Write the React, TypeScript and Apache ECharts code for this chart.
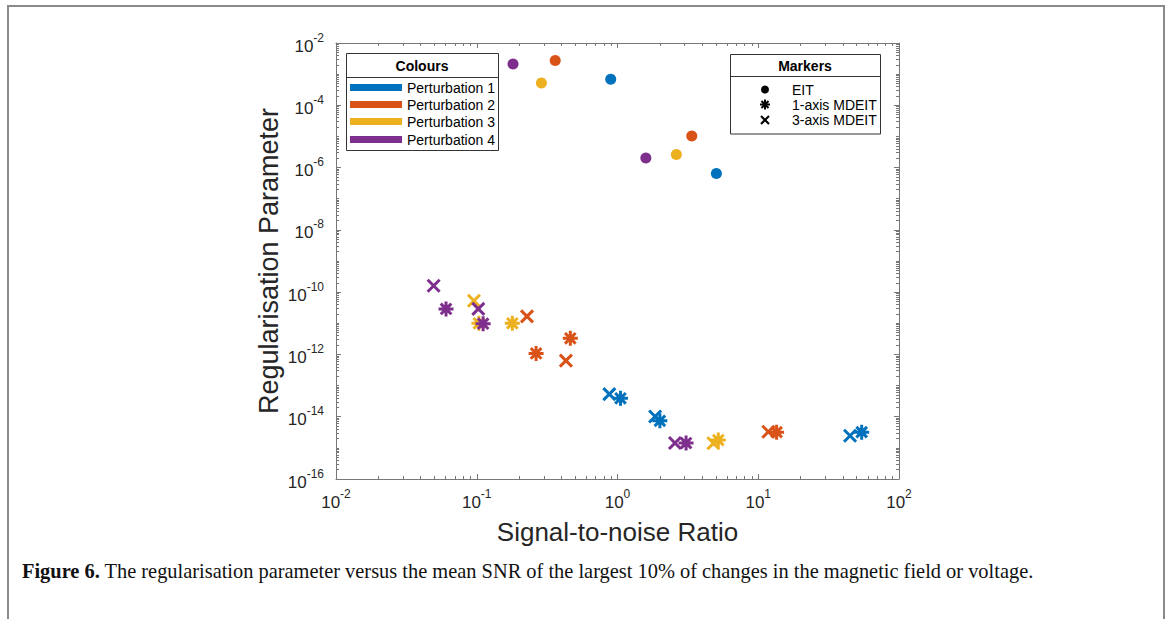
import React, { useEffect, useRef } from "react";
import * as echarts from "echarts";

// ---- data (SNR, regularisation parameter) ----
const perturbationNames = ["Perturbation 1", "Perturbation 2", "Perturbation 3", "Perturbation 4"];
const perturbationColors = ["#0072BD", "#D95319", "#EDB120", "#7E2F8E"];
const markerNames = ["EIT", "1-axis MDEIT", "3-axis MDEIT"];

const p1EIT = [[0.895, 6.8e-4], [5.04, 6.5e-7]];
const p1Axis1 = [[1.05, 3.9e-14], [2.0, 7.4e-15], [54.3, 3.2e-15]];
const p1Axis3 = [[0.875, 5.3e-14], [1.85, 1.02e-14], [44.9, 2.45e-15]];

const p2EIT = [[0.361, 2.76e-3], [3.37, 1.03e-5]];
const p2Axis1 = [[0.264, 1.08e-12], [0.462, 3.3e-12], [13.5, 3.2e-15]];
const p2Axis3 = [[0.2275, 1.66e-11], [0.43, 6.3e-13], [11.8, 3.3e-15]];

const p3EIT = [[0.288, 5.2e-4], [2.62, 2.65e-6]];
const p3Axis1 = [[0.1035, 1.0e-11], [0.179, 1.0e-11], [5.2, 1.78e-15]];
const p3Axis3 = [[0.0955, 5.3e-11], [4.8, 1.4e-15]];

const p4EIT = [[0.181, 2.1e-3], [1.59, 2.03e-6]];
const p4Axis1 = [[0.0605, 2.9e-11], [0.111, 9.7e-12], [3.07, 1.43e-15]];
const p4Axis3 = [[0.0494, 1.6e-10], [0.1026, 2.9e-11], [2.56, 1.43e-15]];

const xMajorExps = [-2, -1, 0, 1, 2];
const yLabelExps = [-16, -14, -12, -10, -8, -6, -4, -2];

const groups = [
  [p1EIT, p1Axis1, p1Axis3],
  [p2EIT, p2Axis1, p2Axis3],
  [p3EIT, p3Axis1, p3Axis3],
  [p4EIT, p4Axis1, p4Axis3],
];

const ASTER = "path://M0,-10L0,10M-10,0L10,0M-7.07,-7.07L7.07,7.07M-7.07,7.07L7.07,-7.07";
const CROSS = "path://M-10,-10L10,10M-10,10L10,-10";

const FONT = "'Liberation Sans', Arial, Helvetica, sans-serif";
const SERIF = "'Liberation Serif', 'Times New Roman', serif";
const TXT = "#262626";
const AX = "#777777";

function minorTicks(lo: number, hi: number) {
  const out: number[] = [];
  for (let e = lo; e < hi; e++) {
    for (let m = 2; m <= 9; m++) out.push(e + Math.log10(m));
  }
  return out;
}

const powLabel = (v: number) => `{b|10}{s|${Math.round(v)}}`;
const rich = {
  b: { fontSize: 17, fontFamily: FONT, color: TXT, lineHeight: 23, verticalAlign: "bottom" },
  s: { fontSize: 12, fontFamily: FONT, color: TXT, lineHeight: 23, verticalAlign: "top", padding: [0, 0, 7, 0] },
};

export default function App() {
  const ref = useRef<HTMLDivElement>(null);
  useEffect(() => {
    document.body.style.margin = "0";
    const chart = echarts.init(ref.current!, null, { renderer: "svg" });

    const xMinor = minorTicks(-2, 2);
    const yMinorAll = minorTicks(-16, -2).concat([-15, -13, -11, -9, -7, -5, -3]);

    const line = { show: true, onZero: false, lineStyle: { color: AX, width: 1 } };
    const noLine = { show: false, onZero: false };
    const baseX = { type: "value", min: -2, max: 2, gridIndex: 0, splitLine: { show: false } };
    const baseY = { type: "value", min: -16, max: -2, gridIndex: 0, splitLine: { show: false } };

    const xAxis: any[] = [
      {
        ...baseX,
        position: "bottom",
        axisLine: line,
        axisTick: { show: true, inside: true, length: 5, customValues: xMajorExps, lineStyle: { color: AX } },
        axisLabel: { show: true, customValues: xMajorExps, formatter: powLabel, rich, margin: 9 },
        name: "Signal-to-noise Ratio",
        nameLocation: "middle",
        nameGap: 40,
        nameTextStyle: { fontSize: 26, fontFamily: FONT, color: TXT },
      },
      {
        ...baseX,
        position: "bottom",
        axisLine: noLine,
        axisTick: { show: true, inside: true, length: 3, customValues: xMinor, lineStyle: { color: AX } },
        axisLabel: { show: false },
      },
      {
        ...baseX,
        position: "top",
        axisLine: line,
        axisTick: { show: true, inside: true, length: 5, customValues: xMajorExps, lineStyle: { color: AX } },
        axisLabel: { show: false },
      },
      {
        ...baseX,
        position: "top",
        axisLine: noLine,
        axisTick: { show: true, inside: true, length: 3, customValues: xMinor, lineStyle: { color: AX } },
        axisLabel: { show: false },
      },
    ];

    const yAxis: any[] = [
      {
        ...baseY,
        position: "left",
        axisLine: line,
        axisTick: { show: true, inside: true, length: 5, customValues: yLabelExps, lineStyle: { color: AX } },
        axisLabel: { show: true, customValues: yLabelExps, formatter: powLabel, rich, margin: 12 },
        name: "Regularisation Parameter",
        nameLocation: "middle",
        nameGap: 54,
        nameTextStyle: { fontSize: 27, fontFamily: FONT, color: TXT },
      },
      {
        ...baseY,
        position: "left",
        axisLine: noLine,
        axisTick: { show: true, inside: true, length: 3, customValues: yMinorAll, lineStyle: { color: AX } },
        axisLabel: { show: false },
      },
      {
        ...baseY,
        position: "right",
        axisLine: line,
        axisTick: { show: true, inside: true, length: 5, customValues: yLabelExps, lineStyle: { color: AX } },
        axisLabel: { show: false },
      },
      {
        ...baseY,
        position: "right",
        axisLine: noLine,
        axisTick: { show: true, inside: true, length: 3, customValues: yMinorAll, lineStyle: { color: AX } },
        axisLabel: { show: false },
      },
    ];

    const series: any[] = [];
    groups.forEach((g, pi) => {
      const c = perturbationColors[pi];
      const [eit, a1, a3] = g;
      const toLog = (arr: number[][]) => arr.map(([x, y]) => [Math.log10(x), Math.log10(y)]);
      series.push({
        type: "scatter", name: `${perturbationNames[pi]} ${markerNames[0]}`,
        data: toLog(eit), symbol: "circle", symbolSize: 11,
        itemStyle: { color: c, opacity: 1 },
      });
      series.push({
        type: "scatter", name: `${perturbationNames[pi]} ${markerNames[2]}`,
        data: toLog(a3), symbol: CROSS, symbolSize: 12,
        itemStyle: { color: c, borderColor: c, borderWidth: 3, opacity: 1 },
      });
      series.push({
        type: "scatter", name: `${perturbationNames[pi]} ${markerNames[1]}`,
        data: toLog(a1), symbol: ASTER, symbolSize: 15,
        itemStyle: { color: c, borderColor: c, borderWidth: 3, opacity: 1 },
      });
    });

    const graphic: any[] = [
      // outer frame
      { type: "rect", shape: { x: 8, y: 6, width: 1156, height: 640 }, style: { fill: "none", stroke: "#8a8a8a", lineWidth: 2 }, silent: true },
      // Colours legend
      { type: "rect", shape: { x: 346.5, y: 53.5, width: 152, height: 97 }, style: { fill: "#fff", stroke: "#333", lineWidth: 1 }, z: 10 },
      { type: "line", shape: { x1: 346.5, y1: 77.5, x2: 498.5, y2: 77.5 }, style: { stroke: "#333", lineWidth: 1 }, z: 11 },
      { type: "text", x: 422, y: 65.5, style: { text: "Colours", font: `bold 14px ${FONT}`, fill: "#000", align: "center", verticalAlign: "middle" }, z: 11 },
      // Markers legend
      { type: "rect", shape: { x: 730.5, y: 54.5, width: 150, height: 79.5 }, style: { fill: "#fff", stroke: "#333", lineWidth: 1 }, z: 10 },
      { type: "line", shape: { x1: 730.5, y1: 76.5, x2: 880.5, y2: 76.5 }, style: { stroke: "#333", lineWidth: 1 }, z: 11 },
      { type: "text", x: 805, y: 65.5, style: { text: "Markers", font: `bold 14px ${FONT}`, fill: "#000", align: "center", verticalAlign: "middle" }, z: 11 },
      // caption
      {
        type: "text", x: 22, y: 571,
        style: {
          text: "{b|Figure 6.} The regularisation parameter versus the mean SNR of the largest 10% of changes in the magnetic field or voltage.",
          rich: {
            b: { font: `bold 20.4px ${SERIF}`, fill: "#111" },
          },
          font: `20.4px ${SERIF}`, fill: "#111", verticalAlign: "middle",
        },
      },
    ];

    const colourY = [87.5, 104.5, 121.5, 139.5];
    perturbationNames.forEach((n, i) => {
      graphic.push({ type: "rect", shape: { x: 350, y: colourY[i] - 3.5, width: 52, height: 7 }, style: { fill: perturbationColors[i] }, z: 11 });
      graphic.push({ type: "text", x: 407, y: colourY[i], style: { text: n, font: `14px ${FONT}`, fill: "#000", verticalAlign: "middle" }, z: 11 });
    });

    const markerY = [89.5, 104.5, 120];
    const mx = 765;
    graphic.push({ type: "circle", shape: { cx: mx, cy: markerY[0], r: 4 }, style: { fill: "#000" }, z: 11 });
    const ar = 5;
    const d = ar * 0.707;
    [[0, -ar, 0, ar], [-ar, 0, ar, 0], [-d, -d, d, d], [-d, d, d, -d]].forEach(([a, b, c2, e]) => {
      graphic.push({ type: "line", shape: { x1: mx + a, y1: markerY[1] + b, x2: mx + c2, y2: markerY[1] + e }, style: { stroke: "#000", lineWidth: 2 }, z: 11 });
    });
    const xr = 4;
    [[-xr, -xr, xr, xr], [-xr, xr, xr, -xr]].forEach(([a, b, c2, e]) => {
      graphic.push({ type: "line", shape: { x1: mx + a, y1: markerY[2] + b, x2: mx + c2, y2: markerY[2] + e }, style: { stroke: "#000", lineWidth: 2 }, z: 11 });
    });
    markerNames.forEach((n, i) => {
      graphic.push({ type: "text", x: 792, y: markerY[i], style: { text: n, font: `14px ${FONT}`, fill: "#000", verticalAlign: "middle" }, z: 11 });
    });

    chart.setOption({
      animation: false,
      backgroundColor: "#fff",
      grid: { left: 336, top: 43, width: 563, height: 436, containLabel: false },
      xAxis,
      yAxis,
      series,
      graphic,
    });
    return () => chart.dispose();
  }, []);
  return <div ref={ref} style={{ width: 1170, height: 619 }} />;
}
